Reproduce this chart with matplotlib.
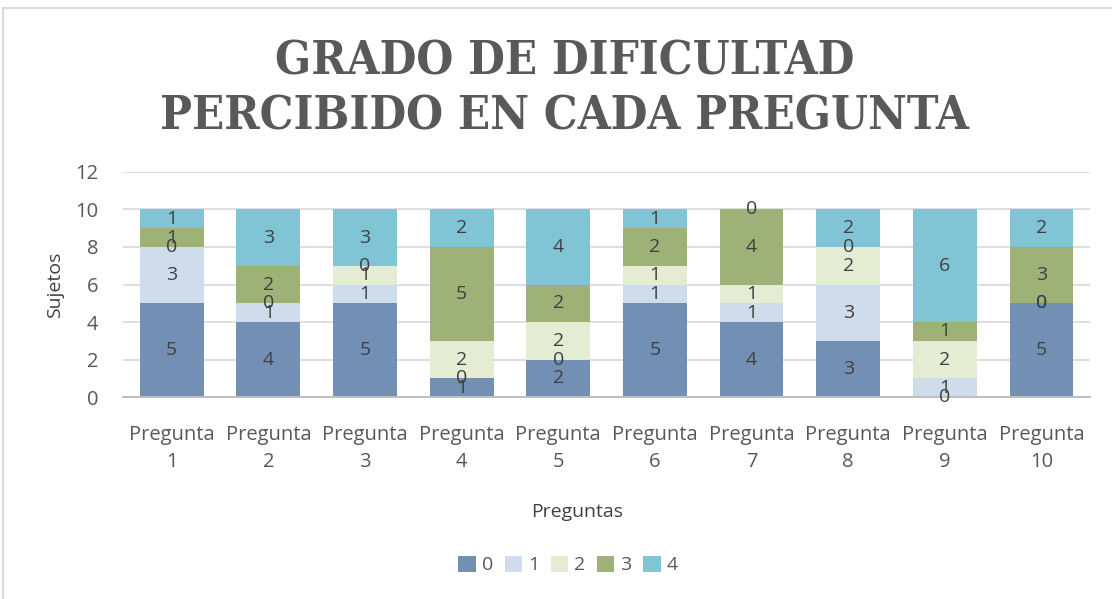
import matplotlib.pyplot as plt
import numpy as np
from matplotlib.patches import Rectangle

preguntas = ['Pregunta\n1', 'Pregunta\n2', 'Pregunta\n3', 'Pregunta\n4', 'Pregunta\n5',
             'Pregunta\n6', 'Pregunta\n7', 'Pregunta\n8', 'Pregunta\n9', 'Pregunta\n10']
niveles = ['0', '1', '2', '3', '4']

# sujetos por nivel de dificultad en cada pregunta
nivel_0 = [5, 4, 5, 1, 2, 5, 4, 3, 0, 5]
nivel_1 = [3, 1, 1, 0, 0, 1, 1, 3, 1, 0]
nivel_2 = [0, 0, 1, 2, 2, 1, 1, 2, 2, 0]
nivel_3 = [1, 2, 0, 5, 2, 2, 4, 0, 1, 3]
nivel_4 = [1, 3, 3, 2, 4, 1, 0, 2, 6, 2]

colores = ['#7290B4', '#CFDCEC', '#E4ECD3', '#9EB176', '#80C4D6']

plt.rcParams['font.family'] = ['Open Sans', 'DejaVu Sans']

fig = plt.figure(figsize=(11.12, 5.99), dpi=100)
ax = fig.add_axes([0.111, 0.337, 0.869, 0.376])

series = [nivel_0, nivel_1, nivel_2, nivel_3, nivel_4]
x = np.arange(len(preguntas))
base = np.zeros(len(preguntas))
for vals, col, nom in zip(series, colores, niveles):
    vals = np.array(vals)
    ax.bar(x, vals, 0.66, bottom=base, color=col, label=nom, zorder=2)
    for xi, b, v in zip(x, base, vals):
        ax.text(xi, b + v / 2, str(v), ha='center', va='center',
                fontsize=14, color='#404040', zorder=3)
    base = base + vals

ax.set_xlim(-0.5, 9.5)
ax.set_ylim(0, 12)
ax.set_yticks(range(0, 13, 2))
ax.set_xticks(x)
ax.set_xticklabels(preguntas, linespacing=1.45)
ax.grid(axis='y', color='#D9D9D9', linewidth=1.2, zorder=0)
for s in ['top', 'right', 'left']:
    ax.spines[s].set_visible(False)
ax.spines['bottom'].set_color('#BFBFBF')
ax.spines['bottom'].set_linewidth(1.5)
ax.tick_params(length=0, labelsize=14.5, colors='#595959')
ax.tick_params(axis='y', pad=18)
ax.tick_params(axis='x', pad=20)

ax.set_xlabel('Preguntas', fontsize=14, color='#404040')
ax.xaxis.set_label_coords(0.47, -0.47)
ax.set_ylabel('Sujetos', fontsize=14, color='#404040', labelpad=8)

fig.suptitle('GRADO DE DIFICULTAD\nPERCIBIDO EN CADA PREGUNTA', x=0.508, y=0.935,
             fontsize=34, fontweight='bold', family='DejaVu Serif',
             fontstretch='condensed', color='#595959', linespacing=1.25)

ax.legend(loc='center', bbox_to_anchor=(0.46, -0.745), ncol=5, frameon=False,
          fontsize=14, handlelength=0.9, handleheight=0.9, handletextpad=0.3,
          columnspacing=0.6, labelcolor='#595959')

fig.patches.append(Rectangle((0.003, -0.05), 1.2, 1.037, transform=fig.transFigure,
                             fill=False, edgecolor='#D9D9D9', linewidth=1.5))

fig.savefig('out.png', dpi=100)
